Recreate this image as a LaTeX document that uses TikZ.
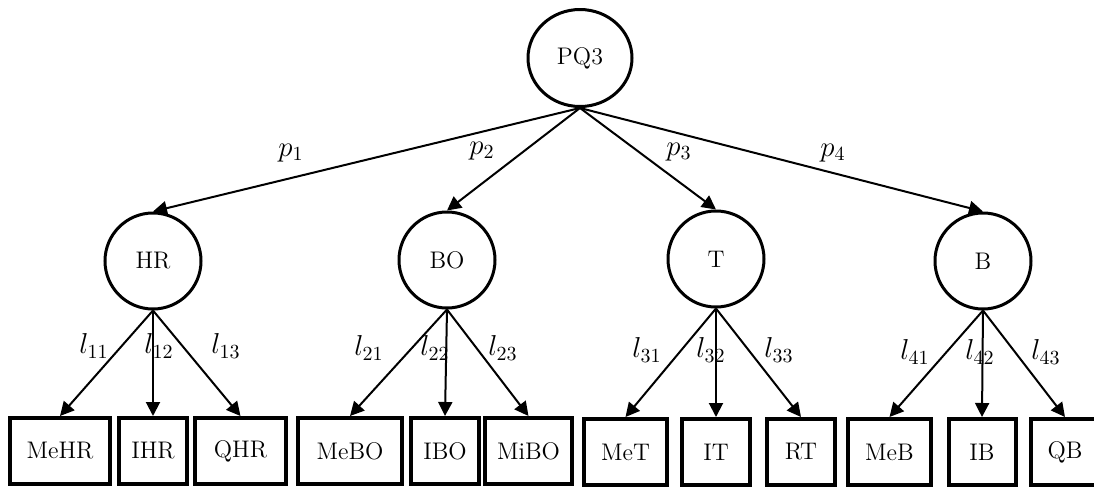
\documentclass[tikz,border=0pt]{standalone}
\usetikzlibrary{arrows.meta,shapes.geometric}
\begin{document}
\begin{tikzpicture}[x=0.5pt,y=-0.5pt,
  txt/.style={font=\fontsize{12}{14}\selectfont},
  latent/.style={txt,circle,draw,line width=1.5pt,minimum size=48pt,inner sep=0pt},
  top/.style={txt,ellipse,draw,line width=1.5pt,minimum width=52pt,minimum height=48.5pt,inner sep=0pt},
  manifest/.style={txt,rectangle,draw,line width=2pt,minimum height=33pt,inner sep=0pt},
  load/.style={-{Triangle[length=7pt,width=7pt]},line width=1pt},
  lab/.style={font=\fontsize{14}{16}\selectfont,inner sep=0pt}]
\path[use as bounding box] (0,0) rectangle (1094,488);
\clip (0,0) rectangle (1094,488);

% second-order factor
\node[top] (PQ3) at (580,58) {PQ3};

% first-order factors
\node[latent] (HR) at (153,261) {HR};
\node[latent] (BO) at (447,260) {BO};
\node[latent] (T)  at (716,259) {T};
\node[latent] (B)  at (983,261) {B};

% indicators
\node[manifest,minimum width=50pt]   (MeHR) at (60,451)    {MeHR};
\node[manifest,minimum width=34pt]   (IHR)  at (153,451)   {IHR};
\node[manifest,minimum width=45.5pt] (QHR)  at (240.5,451) {QHR};
\node[manifest,minimum width=52pt]   (MeBO) at (350,451)   {MeBO};
\node[manifest,minimum width=34pt]   (IBO)  at (445,451)   {IBO};
\node[manifest,minimum width=43.5pt] (MiBO) at (528.5,451) {MiBO};
\node[manifest,minimum width=41.5pt] (MeT)  at (625.5,452) {MeT};
\node[manifest,minimum width=34pt]   (IT)   at (716,452)   {IT};
\node[manifest,minimum width=34pt]   (RT)   at (801,452)   {RT};
\node[manifest,minimum width=41.5pt] (MeB)  at (889.5,452) {MeB};
\node[manifest,minimum width=33.5pt] (IB)   at (982,452)   {IB};
\node[manifest,minimum width=34pt]   (QB)   at (1065,452)  {QB};

% structural paths
\foreach \f in {HR,BO,T,B}
  \draw[load] (PQ3.south) -- (\f.north);

% measurement paths
\draw[load] (HR.south) -- (MeHR.north);
\draw[load] (HR.south) -- (IHR.north);
\draw[load] (HR.south) -- (QHR.north);
\draw[load] (BO.south) -- (MeBO.north);
\draw[load] (BO.south) -- (IBO.north);
\draw[load] (BO.south) -- (MiBO.north);
\draw[load] (T.south) -- (MeT.north);
\draw[load] (T.south) -- (IT.north);
\draw[load] (T.south) -- (RT.north);
\draw[load] (B.south) -- (MeB.north);
\draw[load] (B.south) -- (IB.north);
\draw[load] (B.south) -- (QB.north);

% path coefficients
\node[lab] (p1) at (291,153) {$p_1$};
\node[lab] (p2) at (482,151) {$p_2$};
\node[lab] (p3) at (679,152) {$p_3$};
\node[lab] (p4) at (833,153) {$p_4$};

% loadings
\node[lab] (l11) at (94,346)   {$l_{11}$};
\node[lab] (l12) at (159,346)  {$l_{12}$};
\node[lab] (l13) at (226,346)  {$l_{13}$};
\node[lab] (l21) at (369,348)  {$l_{21}$};
\node[lab] (l22) at (435,348)  {$l_{22}$};
\node[lab] (l23) at (503,348)  {$l_{23}$};
\node[lab] (l31) at (647,350)  {$l_{31}$};
\node[lab] (l32) at (711,350)  {$l_{32}$};
\node[lab] (l33) at (779,350)  {$l_{33}$};
\node[lab] (l41) at (915,352)  {$l_{41}$};
\node[lab] (l42) at (980,352)  {$l_{42}$};
\node[lab] (l43) at (1046,352) {$l_{43}$};
\end{tikzpicture}
\end{document}
